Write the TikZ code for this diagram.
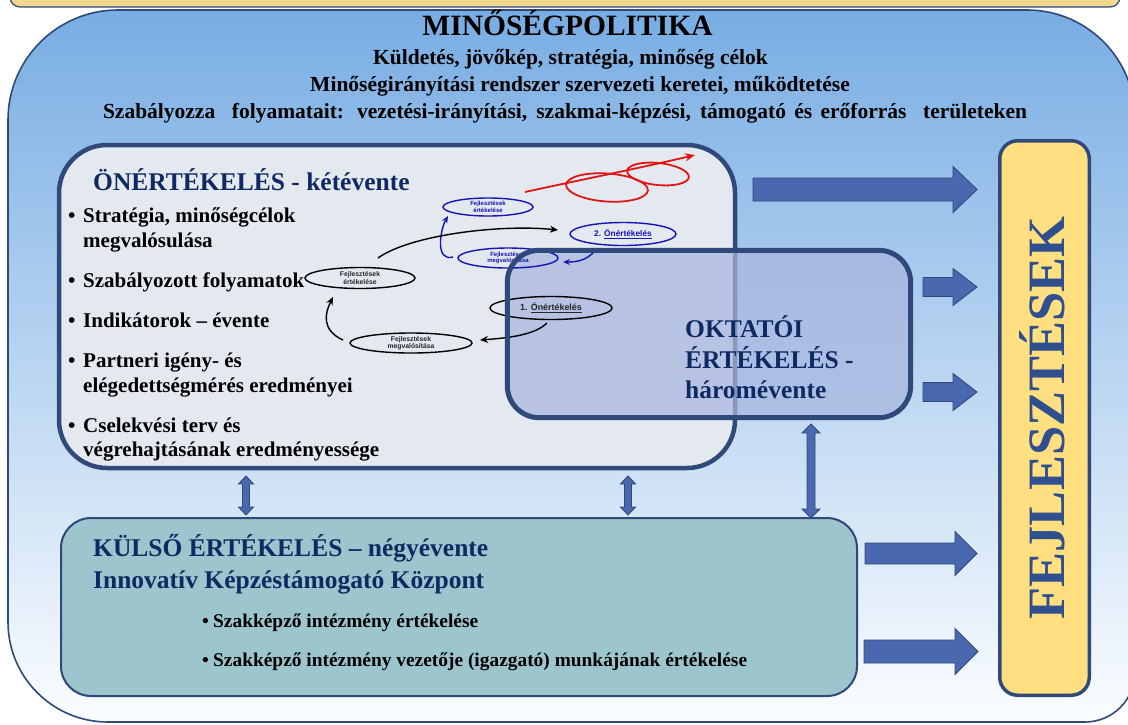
\documentclass[tikz,border=0pt]{standalone}
\usepackage{fontspec}
\setmainfont{Liberation Serif}
\newfontfamily\arialfam{Liberation Sans}
\usetikzlibrary{shapes.geometric,arrows.meta}
\definecolor{bordr}{HTML}{2F4A7A}
\definecolor{bgtop}{HTML}{78ADE3}
\definecolor{bgmid}{HTML}{BED7F2}
\definecolor{bgbot}{HTML}{FBFDFF}
\definecolor{stripY}{HTML}{F2D78E}
\definecolor{onfill}{HTML}{E4E8EF}
\definecolor{oktfill}{HTML}{A8B6DF}
\definecolor{kulfill}{HTML}{9DC5CD}
\definecolor{fejfill}{HTML}{FFDF80}
\definecolor{arrfill}{HTML}{4A68B0}
\definecolor{navy}{HTML}{0F2A62}
\definecolor{fejtext}{HTML}{2F4F8F}
\definecolor{cycblue}{HTML}{1515B5}
\definecolor{cycred}{HTML}{E01515}
\newcommand\fsz[1]{\fontsize{#1}{#1}\selectfont}
\tikzset{
  t1/.style={inner sep=0pt, anchor=base, text=black, font=\bfseries\fsz{29.5}},
  t2/.style={inner sep=0pt, anchor=base, text=black, font=\bfseries\fsz{21.5}},
  headtxt/.style={inner sep=0pt, anchor=base west, text=navy, font=\bfseries\fsz{25.5}},
  bul/.style={inner sep=0pt, anchor=base west, text=black, font=\bfseries\fsz{21}},
  bulsm/.style={inner sep=0pt, anchor=base west, text=black, font=\bfseries\fsz{19.4}},
  cyc/.style={ellipse, draw=black, line width=1.4pt, inner sep=0pt, align=center},
  cycb/.style={cyc, draw=cycblue, text=cycblue},
  smallblk/.style={font=\arialfam\bfseries\fontsize{6.8}{7.4}\selectfont, text=black!85},
  smallblu/.style={font=\arialfam\bfseries\fontsize{6}{6.5}\selectfont},
  blkarr/.style={draw=black, line width=1.4pt, -{Stealth[length=8pt,width=7pt]}},
  bluarr/.style={draw=cycblue, line width=1.4pt, -{Stealth[length=7pt,width=6pt]}},
  redarr/.style={draw=cycred, line width=1.8pt, -{Stealth[length=10pt,width=8pt]}},
  redloop/.style={draw=cycred, line width=1.8pt},
  arrstyle/.style={draw=bordr, line width=0.9pt, fill=arrfill},
  pics/harr/.style args={#1/#2/#3/#4}{code={
    \draw[arrstyle] (0,#2) -- (#1-#4,#2) -- (#1-#4,#3) -- (#1,0) -- (#1-#4,-#3) -- (#1-#4,-#2) -- (0,-#2) -- cycle;}},
  pics/vdarr/.style args={#1/#2/#3/#4}{code={
    \draw[arrstyle] (0,0) -- (#3,-#4) -- (#2,-#4) -- (#2,-#1+#4) -- (#3,-#1+#4) -- (0,-#1) -- (-#3,-#1+#4) -- (-#2,-#1+#4) -- (-#2,-#4) -- (-#3,-#4) -- cycle;}},
}
\begin{document}
\begin{tikzpicture}[x=1pt,y=1pt]
\useasboundingbox (0,0) rectangle (1128,-724);
\fill[white] (0,0) rectangle (1128,-724);
% top strip
\draw[draw=bordr, line width=1.2pt, fill=stripY, rounded corners=10pt] (10,-7) rectangle (1120,30);
% big background shape
\path[draw=bordr, line width=1.6pt, top color=bgtop, middle color=bgmid, bottom color=bgbot]
  (8,-400) [rounded corners=110pt] |- (560,-10) [rounded corners=108pt] -| (1135,-400)
  [rounded corners=50pt] |- (560,-722) [rounded corners=100pt] -| (8,-420) [sharp corners] -- cycle;
% titles
\node[t1] (title) at (567.5,-35) {MINŐSÉGPOLITIKA};
\node[t2] (l2) at (570.5,-64) {Küldetés, jövőkép, stratégia, minőség célok};
\node[t2] (l3) at (580,-91) {Minőségirányítási rendszer szervezeti keretei, működtetése};
\node[t2] (l4) at (565,-118) {\makebox[924pt][s]{Szabályozza\ \ folyamatait: vezetési-irányítási, szakmai-képzési, támogató és erőforrás\ \ területeken}};
% self-evaluation box
\node[draw=bordr, line width=4.5pt, fill=onfill, rounded corners=48pt, minimum width=676pt, minimum height=323pt, inner sep=0pt] (onb) at (397,-306.5) {};
\node[headtxt] (ontitle) at (93,-190) {ÖNÉRTÉKELÉS - kétévente};
\node[bul] (b1) at (68,-222) {\makebox[15pt][l]{•}Stratégia, minőségcélok};
\node[bul] (b1b) at (83,-247) {megvalósulása};
\node[bul] (b2) at (68,-287) {\makebox[15pt][l]{•}Szabályozott folyamatok};
\node[bul] (b3) at (68,-327) {\makebox[15pt][l]{•}Indikátorok – évente};
\node[bul] (b4) at (68,-367) {\makebox[15pt][l]{•}Partneri igény- és};
\node[bul] (b4b) at (83,-392) {elégedettségmérés eredményei};
\node[bul] (b5) at (68,-432) {\makebox[15pt][l]{•}Cselekvési terv és};
\node[bul] (b5b) at (83,-456) {végrehajtásának eredményessége};
% upper cycle (blue) and red spiral
\node[cycb, smallblu, minimum width=90pt, minimum height=18pt] (e2) at (488,-207) {Fejlesztések\\értékelése};
\node[cycb, font=\arialfam\bfseries\fontsize{8.3}{9}\selectfont, minimum width=106pt, minimum height=23pt] (o2) at (623,-234) {2. \underline{Önértékelés}};
\coordinate (rs) at (525,-192);
\coordinate (re) at (695,-155);
\draw[redarr] (rs) .. controls (580,-180) and (640,-168) .. (re);
\draw[redloop, rotate around={-4:(607,-187.5)}] (607,-187.5) ellipse [x radius=41, y radius=14];
\draw[redloop, rotate around={-6:(658,-174)}] (658,-174) ellipse [x radius=31, y radius=11];
% teacher evaluation box (fill)
\node[fill=oktfill, fill opacity=0.72, rounded corners=32pt, minimum width=403pt, minimum height=167pt, inner sep=0pt] (okb) at (709,-334) {};
% blue lower ellipse and arrows
\node[cycb, smallblu, minimum width=100pt, minimum height=20pt] (m2) at (508,-258) {Fejlesztések\\megvalósítása};
\draw[bluarr] ([shift={(-29,-18)}]o2.center) .. controls +(-8,-8) and +(15,0) .. ([shift={(55,-4)}]m2.center);
\draw[bluarr] ([shift={(-55,1)}]m2.center) .. controls +(-18,-5) and +(-8,-14) .. ([shift={(-40,-9)}]e2.center);
% black cycle
\node[cyc, smallblk, minimum width=110pt, minimum height=21pt] (e1) at (360,-278) {Fejlesztések\\értékelése};
\node[cyc, smallblk, minimum width=122pt, minimum height=20pt] (m1) at (411,-343) {Fejlesztések\\megvalósítása};
\node[cyc, font=\arialfam\bfseries\fontsize{8.9}{10}\selectfont, text=black!85, minimum width=122pt, minimum height=23pt] (o1) at (551,-308) {1. \underline{Önértékelés}};
\draw[blkarr] ([shift={(-4,-15)}]o1.center) .. controls +(-12,-12) and +(28,2) .. ([shift={(69,3)}]m1.center);
\draw[blkarr] ([shift={(-68,3)}]m1.center) .. controls +(-22,10) and +(-8,-16) .. ([shift={(-27,-19)}]e1.center);
\draw[blkarr] ([shift={(18,20)}]e1.center) .. controls +(32,23) and +(-58,6) .. ([shift={(-65,4)}]o2.center);
% teacher evaluation box (border) and text
\draw[draw=bordr, line width=5pt, rounded corners=32pt] (okb.north west) rectangle (okb.south east);
\node[headtxt] (ok1) at (685,-337) {OKTATÓI};
\node[headtxt] (ok2) at (685,-368) {ÉRTÉKELÉS -};
\node[headtxt] (ok3) at (685,-398) {háromévente};
% external evaluation box
\node[draw=bordr, line width=2pt, fill=kulfill, rounded corners=30pt, minimum width=796pt, minimum height=178pt, inner sep=0pt] (kulb) at (459,-607) {};
\node[headtxt] (k1) at (93,-556) {KÜLSŐ ÉRTÉKELÉS – négyévente};
\node[headtxt] (k2) at (93,-588) {Innovatív Képzéstámogató Központ};
\node[bulsm] (k3) at (202,-627) {\makebox[11pt][l]{•}Szakképző intézmény értékelése};
\node[bulsm] (k4) at (202,-666) {\makebox[11pt][l]{•}Szakképző intézmény vezetője (igazgató) munkájának értékelése};
% developments box
\node[draw=bordr, line width=3.5pt, fill=fejfill, rounded corners=18pt, minimum width=89.5pt, minimum height=554.5pt, inner sep=0pt] (fejb) at (1044.5,-418) {};
\node[rotate=90, anchor=base, inner sep=0pt, text=fejtext, font=\bfseries\fsz{52.5}] (fejt) at (1064,-418) {FEJLESZTÉSEK};
% block arrows to FEJLESZTÉSEK
\pic at (753,-189.5) {harr=224/11.5/23/24};
\pic at (923,-287) {harr=54/9.5/18.5/24};
\pic at (923,-392) {harr=54/9.5/18.5/24};
\pic at (865,-553.5) {harr=112/10.5/22/22};
\pic at (864,-651.5) {harr=114/11.5/23/23};
% vertical double arrows
\pic at (246,-476) {vdarr=39/3.5/7.5/8};
\pic at (628,-476) {vdarr=39/3.5/7.5/8};
\pic at (811,-424) {vdarr=94/4/9/9};
\end{tikzpicture}
\end{document}
